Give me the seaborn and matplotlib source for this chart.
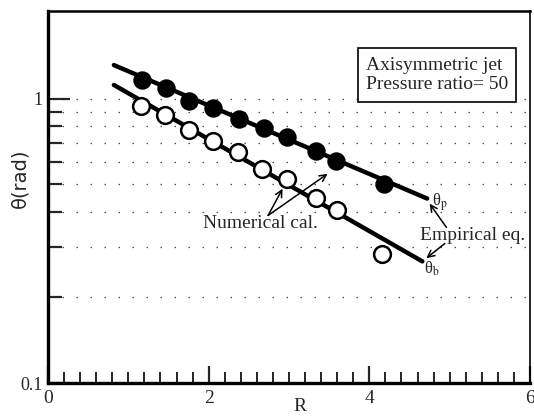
import numpy as np
import pandas as pd
import matplotlib
matplotlib.use("Agg")
import matplotlib.pyplot as plt
import seaborn as sns

# ---- data ----
R_p_num = [1.17, 1.47, 1.76, 2.06, 2.38, 2.69, 2.98, 3.33, 3.58, 4.18]
theta_p_num = [1.17, 1.09, 0.984, 0.932, 0.849, 0.789, 0.732, 0.657, 0.606, 0.502]
R_b_num = [1.16, 1.46, 1.76, 2.05, 2.37, 2.67, 2.98, 3.34, 3.60, 4.16]
theta_b_num = [0.945, 0.879, 0.778, 0.712, 0.648, 0.567, 0.523, 0.448, 0.408, 0.285]
R_p_emp = [0.82, 4.72]
theta_p_emp = [1.316, 0.446]
R_b_emp = [0.82, 4.66]
theta_b_emp = [1.12, 0.268]
x_major = [0, 2, 4, 6]
x_major_labels = ["0", "2", "4", "6"]
y_major = [0.1, 1]
y_major_labels = ["0.1", "1"]
y_minor = [0.2, 0.3, 0.4, 0.5, 0.6, 0.7, 0.8, 0.9]

sns.set_theme(style="ticks")
plt.rcParams["font.family"] = ["Liberation Serif", "DejaVu Serif"]
plt.rcParams["mathtext.fontset"] = "stix"

fig = plt.figure(figsize=(5.34, 4.16), dpi=100)
ax = fig.add_axes([48 / 534, 1 - 383 / 416, 482 / 534, 372 / 416])
ax.set_yscale("log")

# grid (dotted horizontal lines)
for yv in y_minor + [1.0]:
    ax.axhline(yv, color="0.3", lw=0.9, ls=(0, (1.2, 10)), zorder=0)

df_pe = pd.DataFrame({"R": R_p_emp, "theta": theta_p_emp})
df_be = pd.DataFrame({"R": R_b_emp, "theta": theta_b_emp})
sns.lineplot(data=df_pe, x="R", y="theta", color="black", lw=3.2, ax=ax,
             estimator=None, sort=False, zorder=2)
sns.lineplot(data=df_be, x="R", y="theta", color="black", lw=3.2, ax=ax,
             estimator=None, sort=False, zorder=2)

df_pn = pd.DataFrame({"R": R_p_num, "theta": theta_p_num})
df_bn = pd.DataFrame({"R": R_b_num, "theta": theta_b_num})
sns.scatterplot(data=df_pn, x="R", y="theta", color="black", s=145,
                edgecolor="black", linewidth=1.2, ax=ax, zorder=3)
sns.scatterplot(data=df_bn, x="R", y="theta", color="white", s=145,
                edgecolor="black", linewidth=1.8, ax=ax, zorder=3)

ax.set_xlim(0, 6)
ax.set_ylim(0.1, 2.04)

ax.set_xticks(x_major)
ax.set_xticklabels(x_major_labels, fontsize=14)
ax.set_xticks(np.arange(0.2, 6.0, 0.2), minor=True)
ax.set_yticks(y_major)
ax.set_yticklabels(y_major_labels, fontsize=13)
ax.set_yticks(y_minor, minor=True)
ax.yaxis.set_minor_formatter(matplotlib.ticker.NullFormatter())
ax.get_yticklabels()[0].set_fontsize(13)

ax.tick_params(axis="x", which="major", direction="in", length=12, width=1.6, pad=5)
ax.tick_params(axis="x", which="minor", direction="in", length=8, width=1.4)
ax.tick_params(axis="y", which="major", direction="in", length=16, width=1.6, pad=4)
ax.tick_params(axis="y", which="minor", direction="in", length=10, width=1.6)

for side, w in [("left", 2.4), ("bottom", 2.4), ("top", 1.8), ("right", 1.2)]:
    ax.spines[side].set_visible(True)
    ax.spines[side].set_linewidth(w)
    ax.spines[side].set_color("black")

ax.set_xlabel("")
ax.set_ylabel("")
ax.text((300 - 48) / 482, -0.062, "R", transform=ax.transAxes, ha="center",
        va="center", fontsize=14)
fig.text(20 / 534, 1 - 178 / 416, "θ(rad)", rotation=90, ha="center", va="center",
         fontsize=14, family="DejaVu Sans")

# legend box
ax.text(0.807, 0.828, "Axisymmetric jet\nPressure ratio= 50", transform=ax.transAxes,
        ha="center", va="center", multialignment="left", fontsize=14,
        linespacing=1.22,
        bbox=dict(boxstyle="square,pad=0.42", fc="white", ec="black", lw=1.2))

arrow = dict(arrowstyle="->", color="black", lw=1.1, shrinkA=0, shrinkB=0,
             mutation_scale=12)
# Numerical cal.
ax.text(2.64, 0.364, "Numerical cal.", ha="center", va="center", fontsize=14)
ax.annotate("", xy=(2.92, 0.483), xytext=(2.74, 0.389), arrowprops=arrow)
ax.annotate("", xy=(3.48, 0.545), xytext=(2.74, 0.389), arrowprops=arrow)
# Empirical eq.
ax.text(5.28, 0.331, "Empirical eq.", ha="center", va="center", fontsize=14)
ax.annotate("", xy=(4.75, 0.428), xytext=(4.96, 0.353), arrowprops=arrow)
ax.annotate("", xy=(4.71, 0.275), xytext=(4.94, 0.310), arrowprops=arrow)
ax.text(4.78, 0.432, "θ$_\\mathrm{p}$", ha="left", va="center", fontsize=12)
ax.text(4.68, 0.253, "θ$_\\mathrm{b}$", ha="left", va="center", fontsize=12)

fig.savefig("out.png", dpi=100)
